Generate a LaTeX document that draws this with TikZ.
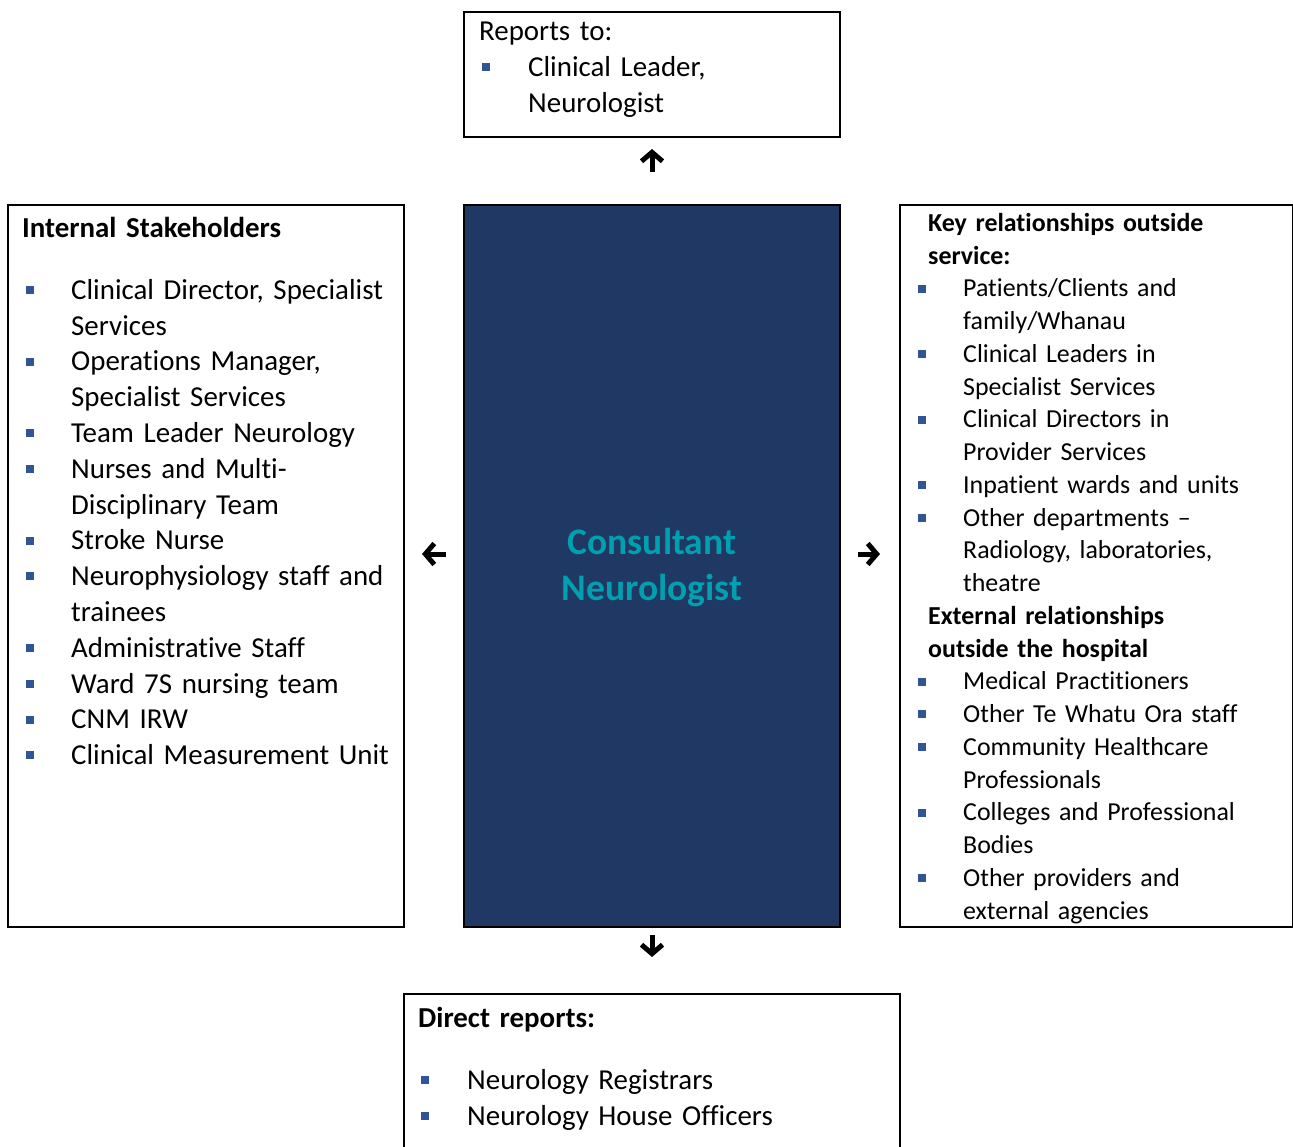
\documentclass[tikz,border=0pt]{standalone}
\usepackage{fontspec}
\setmainfont{Carlito}[Ligatures=NoCommon]
\usepackage{tikz}
\usetikzlibrary{arrows.meta,positioning}
\definecolor{rolenavy}{HTML}{203864}
\definecolor{roleteal}{HTML}{00A0B0}
\definecolor{bulblue}{HTML}{2F5597}
\newlength{\itemind}
\newlength{\bulind}
\newcommand{\bulsq}{\raisebox{\dimexpr0.32em-4pt\relax}{\textcolor{bulblue}{\rule{8pt}{8pt}}}}
\newcommand{\bitem}[1]{\par\noindent\hangindent=\itemind\hangafter=1\makebox[\itemind][l]{\hspace*{\bulind}\bulsq}#1}
\tikzset{
  box/.style={draw=black, line width=2pt, inner sep=0pt, anchor=north west},
  txt/.style={anchor=north west, inner sep=0pt, text width=#1, align=left},
  big/.style={font=\fontsize{28.9}{35.8}\selectfont},
  small/.style={font=\fontsize{25.9}{32.75}\selectfont},
  arr/.style={line width=5pt, -{Straight Barb[length=9pt,width=21pt]}}
}

\begin{document}
\begin{tikzpicture}[x=1pt,y=-1pt]
\useasboundingbox (0,0) rectangle (1293,1147);
% boxes
\node[box, minimum width=376, minimum height=125] (reports) at (463,11) {};
\node[box, fill=rolenavy, minimum width=376, minimum height=722] (role) at (463,204) {};
\node[box, minimum width=396, minimum height=722] (internal) at (7,204) {};
\node[box, minimum width=393, minimum height=722] (external) at (899,204) {};
\node[box, minimum width=496, minimum height=160] (direct) at (403,993) {};

\node[font=\bfseries\fontsize{37.5}{46}\selectfont, text=roleteal, align=center] (roletxt) at ([yshift=-2pt]role.center) {Consultant\\Neurologist};

% texts
\node[txt=360pt, big] (reportstxt) at (479,22) {\setlength{\itemind}{49pt}\setlength{\bulind}{3pt}%
Reports to:
\bitem{Clinical Leader,\newline Neurologist}\par};

\node[txt=380pt, big] (internaltxt) at (22,217) {\setlength{\itemind}{49pt}\setlength{\bulind}{4pt}%
\textbf{Internal Stakeholders}\par\vspace{26pt}
\bitem{Clinical Director, Specialist\newline Services}
\bitem{Operations Manager,\newline Specialist Services}
\bitem{Team Leader Neurology}
\bitem{Nurses and Multi-\newline Disciplinary Team}
\bitem{Stroke Nurse}
\bitem{Neurophysiology staff and\newline trainees}
\bitem{Administrative Staff}
\bitem{Ward 7S nursing team}
\bitem{CNM IRW}
\bitem{Clinical Measurement Unit}\par};

\node[txt=372pt, small] (externaltxt) at (918,213) {\setlength{\itemind}{45pt}\setlength{\bulind}{0pt}%
\hspace*{10pt}\textbf{Key relationships outside}\newline\hspace*{10pt}\textbf{service:}
\bitem{Patients/Clients and\newline family/Whanau}
\bitem{Clinical Leaders in\newline Specialist Services}
\bitem{Clinical Directors in\newline Provider Services}
\bitem{Inpatient wards and units}
\bitem{Other departments \textendash\newline Radiology, laboratories,\newline theatre}
\par\noindent\hspace*{10pt}\textbf{External relationships}\newline\hspace*{10pt}\textbf{outside the hospital}
\bitem{Medical Practitioners}
\bitem{Other Te Whatu Ora staff}
\bitem{Community Healthcare\newline Professionals}
\bitem{Colleges and Professional\newline Bodies}
\bitem{Other providers and\newline external agencies}\par};

\node[txt=480pt, big] (directtxt) at (418,1007) {\setlength{\itemind}{49pt}\setlength{\bulind}{3pt}%
\textbf{Direct reports:}\par\vspace{26pt}
\bitem{Neurology Registrars}
\bitem{Neurology House Officers}\par};

% arrows
\draw[arr, shorten <=32pt, shorten >=11pt] (role.north) -- (reports.south);
\draw[arr, shorten <=17pt, shorten >=17pt] ([yshift=12pt]role.west) -- ([yshift=12pt]internal.east);
\draw[arr, shorten <=17pt, shorten >=19pt] ([yshift=12pt]role.east) -- ([yshift=12pt]external.west);
\draw[arr, shorten <=7pt, shorten >=36pt] (role.south) -- (direct.north);
\end{tikzpicture}
\end{document}
